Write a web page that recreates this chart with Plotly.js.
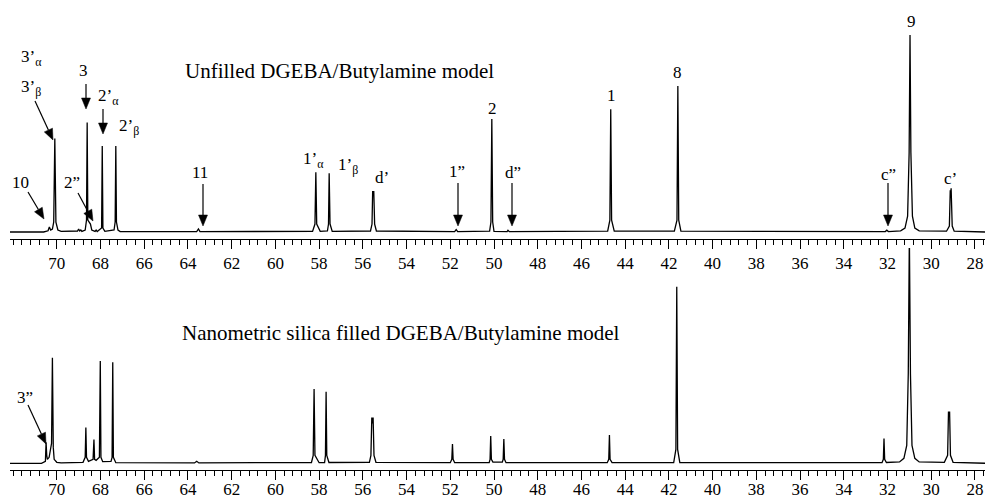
<!DOCTYPE html>
<html>
<head>
<meta charset="utf-8">
<script src="https://cdn.plot.ly/plotly-3.0.1.min.js"></script>
<style>html,body{margin:0;padding:0;background:#fff;}#chart{width:985px;height:500px;}</style>
</head>
<body>
<div id="chart"></div>
<script>
// Chemical shift (ppm) and intensity
const unfilledPpm = [72.2,70.60,70.40,70.34,70.28,70.20,70.14,70.11,70.09,70.07,70.04,69.95,69.80,69.05,69.00,68.95,68.90,68.85,68.70,68.64,68.61,68.58,68.52,68.46,68.40,68.25,68.20,68.15,67.95,67.92,67.89,67.80,67.38,67.33,67.30,67.27,67.20,67.10,63.60,63.52,63.45,58.30,58.19,58.15,58.11,57.95,57.62,57.57,57.54,57.50,57.40,55.65,55.58,55.55,55.52,55.50,55.46,55.38,51.80,51.73,51.66,50.20,50.14,50.10,50.06,50.00,49.40,49.36,49.30,44.80,44.70,44.66,44.62,44.50,41.75,41.63,41.59,41.55,41.45,32.10,32.03,31.96,31.40,31.20,31.08,31.01,30.97,30.93,30.86,30.75,30.55,29.30,29.17,29.13,29.11,29.09,29.04,28.95,27.50];
const unfilledInt = [0,0,0.6,2.5,1.0,1.5,5,30,47,30,5,1,0.3,0.5,1.5,0.5,1.0,0.3,1.0,6,55,6,5,4,1,0.3,1,0.2,2,43.2,2,0.3,1,5,43.2,5,1,0.2,0.2,1.5,0.2,0.3,4,30,4,0.3,0.5,4,29.5,4,0.3,0.5,4,20.6,18,20.6,4,0.5,0.2,1.2,0.2,0.4,5,56.8,5,0.3,0.2,0.9,0.2,0.4,6,61.7,6,0.4,0.4,6,73.4,6,0.4,0.2,0.9,0.2,0.6,2,8,40,99,40,8,2,0.6,0.4,3,21,19,22,3,0.4,0];

const filledPpm = [72.2,70.70,70.52,70.49,70.46,70.43,70.35,70.24,70.20,70.18,70.16,70.12,70.00,69.80,68.80,68.70,68.67,68.64,68.55,68.34,68.30,68.27,68.20,68.05,68.01,67.98,67.90,67.52,67.47,67.44,67.41,67.30,63.70,63.60,63.50,58.35,58.27,58.23,58.19,58.00,57.75,57.71,57.68,57.65,57.55,55.70,55.63,55.59,55.56,55.53,55.49,55.40,52.00,51.93,51.90,51.87,51.80,50.22,50.18,50.15,50.12,50.05,49.62,49.58,49.55,49.52,49.45,44.82,44.75,44.72,44.69,44.60,41.78,41.68,41.64,41.60,41.50,32.25,32.19,32.16,32.13,32.05,31.45,31.25,31.12,31.05,31.00,30.95,30.88,30.75,30.55,29.40,29.25,29.21,29.19,29.16,29.12,29.00,27.50];
const filledInt = [0,0,1,10.5,4,2,3,10,53,30,8,2,0.5,0.2,0.5,3,18,3,1,2,12,2,1.5,3,51.4,3,0.8,1,3,50.8,3,0.3,0.2,1.0,0.2,0.4,4,37.3,4,0.3,0.4,4,36,4,0.4,0.5,4,23,20,23,4,0.5,0.3,2,9.7,2,0.3,0.3,2,13.7,2,0.6,0.6,2,12.2,2,0.3,0.3,2,14.2,2,0.3,0.4,7,88.7,7,0.4,0.3,2,12.4,2,0.4,0.7,2.5,9,45,115,45,9,2.5,0.7,0.5,4,26,24,26,4,0.5,0];

// Axis tick labels
const tickVals = [70,68,66,64,62,60,58,56,54,52,50,48,46,44,42,40,38,36,34,32,30,28];
const tickText = ['70','68','66','64','62','60','58','56','54','52','50','48','46','44','42','40','38','36','34','32','30','28'];

const W = 985, H = 500, ML = 10, MB = 30;
const PW = W - ML, PH = H - MB;
const px = x => (x - ML) / PW;
const py = y => (PH - y) / PH;
const serif = 'Liberation Serif, Times New Roman, serif';

const traces = [
  {x: unfilledPpm, y: unfilledInt, xaxis: 'x', yaxis: 'y', type: 'scatter', mode: 'lines',
   line: {color: '#000', width: 1.3}, hoverinfo: 'skip'},
  {x: filledPpm, y: filledInt, xaxis: 'x2', yaxis: 'y2', type: 'scatter', mode: 'lines',
   line: {color: '#000', width: 1.3}, hoverinfo: 'skip'}
];

const xax = {
  range: [72.14, 27.54], showgrid: false, zeroline: false, showline: true, linecolor: '#000', linewidth: 1,
  ticks: 'outside', ticklen: 9, tickwidth: 1, tickcolor: '#000',
  tickmode: 'array', tickvals: tickVals, ticktext: tickText,
  minor: {dtick: 0.4, tick0: 0, ticks: 'outside', ticklen: 5, tickwidth: 1, tickcolor: '#000'},
  tickfont: {family: serif, size: 17, color: '#000'}, fixedrange: true
};

const texts = [
  ['Unfilled DGEBA/Butylamine model', 183, 71, 'left', 21],
  ['Nanometric silica filled DGEBA/Butylamine model', 180, 333, 'left', 21],
  ['3’<sub>α</sub>', 19, 58, 'left', 17],
  ['3’<sub>β</sub>', 19, 88, 'left', 17],
  ['3', 83, 70, 'center', 17],
  ['2’<sub>α</sub>', 96, 97, 'left', 17],
  ['2’<sub>β</sub>', 117, 127, 'left', 17],
  ['10', 20, 182, 'center', 17],
  ['2”', 72, 182, 'center', 17],
  ['11', 200, 172, 'center', 17],
  ['1’<sub>α</sub>', 301, 160, 'left', 17],
  ['1’<sub>β</sub>', 336, 166, 'left', 17],
  ['d’', 382, 177, 'center', 17],
  ['1”', 457, 171, 'center', 17],
  ['2', 492, 108, 'center', 17],
  ['d”', 513, 172, 'center', 17],
  ['1', 611, 95, 'center', 17],
  ['8', 677, 73, 'center', 17],
  ['9', 911, 21, 'center', 17],
  ['c”', 888, 174, 'center', 17],
  ['c’', 950, 178, 'center', 17],
  ['3”', 25, 397, 'center', 17]
];
// arrows: [tailX, tailY, headX, headY] in pixels
const arrows = [
  [35, 101, 53, 140],
  [28, 192, 44, 219],
  [78, 193, 93, 221],
  [86, 84, 86, 109],
  [103, 109, 103, 134],
  [203, 184, 203, 226],
  [458, 183, 458, 226],
  [512, 183, 512, 226],
  [888, 183, 888, 226],
  [28, 405, 46, 444]
];

const annotations = texts.map(t => ({
  text: t[0], xref: 'paper', yref: 'paper', x: px(t[1]), y: py(t[2]),
  xanchor: t[3], yanchor: 'middle', showarrow: false,
  font: {family: serif, size: t[4], color: '#000'}
}));

const shapes = [];
const HL = 11, HW = 4.5;
arrows.forEach(a => {
  const dx = a[2] - a[0], dy = a[3] - a[1];
  const len = Math.hypot(dx, dy), ux = dx / len, uy = dy / len;
  const bx = a[2] - HL * ux, by = a[3] - HL * uy;
  shapes.push({type: 'line', xref: 'paper', yref: 'paper',
    x0: px(a[0]), y0: py(a[1]), x1: px(bx), y1: py(by), line: {color: '#000', width: 1.2}});
  const p1 = [bx - HW * uy, by + HW * ux], p2 = [bx + HW * uy, by - HW * ux];
  shapes.push({type: 'path', xref: 'paper', yref: 'paper',
    path: `M${px(a[2])},${py(a[3])} L${px(p1[0])},${py(p1[1])} L${px(p2[0])},${py(p2[1])} Z`,
    fillcolor: '#000', line: {color: '#000', width: 0.5}});
});

const layout = {
  width: W, height: H, margin: {l: ML, r: 0, t: 0, b: MB},
  paper_bgcolor: '#fff', plot_bgcolor: 'rgba(0,0,0,0)', showlegend: false,
  xaxis: Object.assign({}, xax, {anchor: 'y'}),
  yaxis: {domain: [py(239), 1], range: [-3.52, 116.58], visible: false, fixedrange: true},
  xaxis2: Object.assign({}, xax, {anchor: 'y2', ticklabelstandoff: -5}),
  yaxis2: {domain: [0, py(248)], range: [-3.37, 108.2], visible: false, fixedrange: true},
  annotations: annotations,
  shapes: shapes
};

Plotly.newPlot('chart', traces, layout, {displayModeBar: false, staticPlot: true});
</script>
</body>
</html>
